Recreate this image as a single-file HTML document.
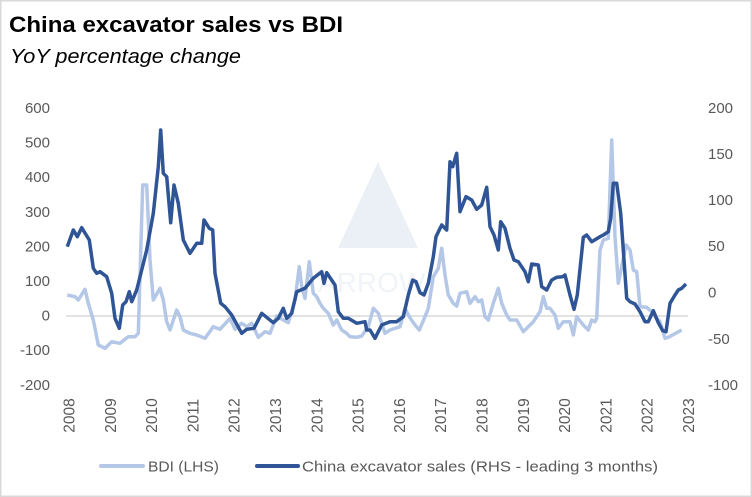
<!DOCTYPE html>
<html><head><meta charset="utf-8"><style>
html,body{margin:0;padding:0;background:#fff}
svg{display:block}
text{font-family:"Liberation Sans",sans-serif}
</style></head><body>
<svg width="752" height="497" viewBox="0 0 752 497" xmlns="http://www.w3.org/2000/svg">
<rect x="0.75" y="0.75" width="750.5" height="495.5" fill="#fff" stroke="#d9d9d9" stroke-width="1.5"/>
<text x="9" y="32" font-size="22" font-weight="bold" fill="#000" textLength="334" lengthAdjust="spacingAndGlyphs">China excavator sales vs BDI</text>
<text x="10" y="63" font-size="20" font-style="italic" fill="#000" textLength="231" lengthAdjust="spacingAndGlyphs">YoY percentage change</text>
<g opacity="0.35">
<path d="M378 162 L338 248 L418 248 Z" fill="#c5d3e6"/>
<text x="318" y="292" font-size="28" font-family="Liberation Serif" fill="#d5deec">ARROW</text>
</g>
<g font-size="15" fill="#595959" text-anchor="end">
<text x="50" y="113">600</text><text x="50" y="147.6">500</text><text x="50" y="182.2">400</text>
<text x="50" y="216.8">300</text><text x="50" y="251.4">200</text><text x="50" y="286">100</text>
<text x="50" y="320.6">0</text><text x="50" y="355.2">-100</text><text x="50" y="389.8">-200</text>
</g>
<g font-size="15" fill="#595959" text-anchor="start">
<text x="708" y="113">200</text><text x="708" y="159">150</text><text x="708" y="205">100</text>
<text x="708" y="251">50</text><text x="708" y="297.5">0</text><text x="708" y="344">-50</text><text x="708" y="390">-100</text>
</g>
<line x1="66" y1="316" x2="688" y2="316" stroke="#d9d9d9" stroke-width="1.5"/>
<g font-size="15.5" fill="#595959" text-anchor="middle">
<text transform="translate(74.5,415.5) rotate(-90)">2008</text>
<text transform="translate(115.8,415.5) rotate(-90)">2009</text>
<text transform="translate(157.1,415.5) rotate(-90)">2010</text>
<text transform="translate(198.4,415.5) rotate(-90)">2011</text>
<text transform="translate(239.7,415.5) rotate(-90)">2012</text>
<text transform="translate(281,415.5) rotate(-90)">2013</text>
<text transform="translate(322.3,415.5) rotate(-90)">2014</text>
<text transform="translate(363.6,415.5) rotate(-90)">2015</text>
<text transform="translate(404.9,415.5) rotate(-90)">2016</text>
<text transform="translate(446.2,415.5) rotate(-90)">2017</text>
<text transform="translate(487.5,415.5) rotate(-90)">2018</text>
<text transform="translate(528.8,415.5) rotate(-90)">2019</text>
<text transform="translate(570.1,415.5) rotate(-90)">2020</text>
<text transform="translate(611.4,415.5) rotate(-90)">2021</text>
<text transform="translate(652.7,415.5) rotate(-90)">2022</text>
<text transform="translate(694,415.5) rotate(-90)">2023</text>
</g>
<polyline fill="none" stroke="#b4c7e7" stroke-width="3.5" stroke-linejoin="round" points="67.3,295 75,296.7 78.3,300 85,289.3 88.3,303.3 93.3,320 98.3,345 105,348.3 111.7,341.7 120,343.3 128.3,336.7 135,336.7 138.3,333.3 142.7,185 146.7,185 150,260 153.3,300 160,288.3 163.3,300 166.7,321.7 170,330 176.7,310 180,316.7 183.3,330 190,333.3 196.7,335 205,338.3 213.3,326.7 220,329.3 230,318.3 235,329.3 241.7,323.3 246.7,326.7 251.7,323.3 258.3,337.3 265,331.7 270,333.3 276.7,316 283.3,320 288.3,322.7 295,300 299.3,266.7 301.7,286.7 305,298.3 309.3,261.7 313.3,293.3 316.7,296.7 320,303.3 323.3,308.3 328.3,313.3 333.3,325 336.7,320 341.7,330 346.7,333.3 350,336.7 356.7,337.3 361.7,336 368.3,326.7 373.3,308.3 378.3,313.3 385,333.3 390,330 400,326.7 405,308.3 409.3,316.7 415,325 419.3,330 425,316.7 428.3,308.3 433.3,276.7 438.3,268.3 441.7,248.3 445,275 448.3,295 453.3,303.3 456.7,306 460,293.3 466.7,291.7 470,303.3 475,296.7 478.3,301.7 481.7,300 485,316.7 488.3,320 493.3,303.3 498.3,288.3 501.7,303.3 506.7,315 510,320 516.7,320 523.3,331.7 533.3,321.7 540,311.7 543.3,296.7 546.7,308.3 550,308.3 555,315 558.3,328.3 563.3,321.7 570,321.7 573.3,335 576.7,316.7 583.3,325 588.3,330 591.7,320 595,321.7 596.7,318.3 600,250 603.3,240 608.3,238.3 611.7,140 615,236.7 618.3,283.3 621.7,266.7 626,245 630,250 633.3,270 636.7,271.7 640,306.7 646.7,307.3 651.7,311.7 655,316.7 660,321.7 665,338.3 668.3,337.3 681.7,330"/>
<polyline fill="none" stroke="#2f5597" stroke-width="3.5" stroke-linejoin="round" points="67.3,246.7 73.3,230 77.3,236.7 81.7,227.7 89.3,240 93.3,268.3 96.7,273.3 100,271.7 106.7,276.7 111.7,293.3 115,318.3 119.3,328.3 122.7,305 126,301.7 129.3,291.7 131.7,301.7 136.7,290 146.7,250 153.3,213.3 158.3,166.7 160.7,130 163.3,173.3 166.7,176.7 170.7,222.7 174,185 178.3,203.3 183.3,240 190,253.3 196.7,243.3 201.7,243.3 204,220 209.3,228.3 212.7,230 215,273.3 220.7,303.3 225,306.7 231.7,315 241.7,333.3 246.7,329.3 254,328.3 261.7,313.3 273.3,322.7 278.3,318.3 283.3,308.3 286.7,318.3 291.7,313.3 296.7,291.7 305,288.3 313.3,278.3 321.7,271.7 324,283.3 326.7,272.7 335,285 338.3,311.7 343.3,318.3 348.3,318.3 356.7,323.3 365,321.7 366.7,330 370,330 375,338.3 381.7,325 390,321.7 396.7,321.7 403.3,316.7 408.3,295 412.7,280 416,281.7 420,292.7 424,295 428.3,283.3 433.3,256.7 436,236.7 441.7,225 446.7,230 450,161.7 452.7,166.7 456.7,153.3 460,211.7 466,196.7 471.7,200 476.7,209.3 481.7,205 486.7,187.3 490,226.7 494,235 498.3,250 500.7,221.7 505,228.3 510,248.3 514,260 518.3,261.7 525,271.7 528.3,281.7 531.7,264 538.3,265 541.7,286.7 546.7,290 551.7,280 556.7,277.3 562.7,276.7 565,275 570,295 574,309.3 577.3,295 583.3,237.3 586.7,235 591.7,241.7 600,236.7 603.3,235 608.3,231.7 610.7,218.3 613.3,183.3 616.7,183.3 620.7,213.3 626.7,298.3 630,301.7 635,304 640,311.7 645,321.7 648.3,321.7 653.3,310.7 658.3,322.7 662.7,330.7 666,331.7 670,303.3 675,295 678.3,290 681.7,288.3 686,284"/>
<line x1="101" y1="466" x2="143" y2="466" stroke="#b4c7e7" stroke-width="4" stroke-linecap="round"/>
<text x="148" y="471.5" font-size="15" fill="#595959" textLength="71" lengthAdjust="spacingAndGlyphs">BDI (LHS)</text>
<line x1="257" y1="466" x2="298" y2="466" stroke="#2f5597" stroke-width="4" stroke-linecap="round"/>
<text x="302" y="471.5" font-size="15" fill="#595959" textLength="356" lengthAdjust="spacingAndGlyphs">China excavator sales (RHS - leading 3 months)</text>
</svg>
</body></html>
